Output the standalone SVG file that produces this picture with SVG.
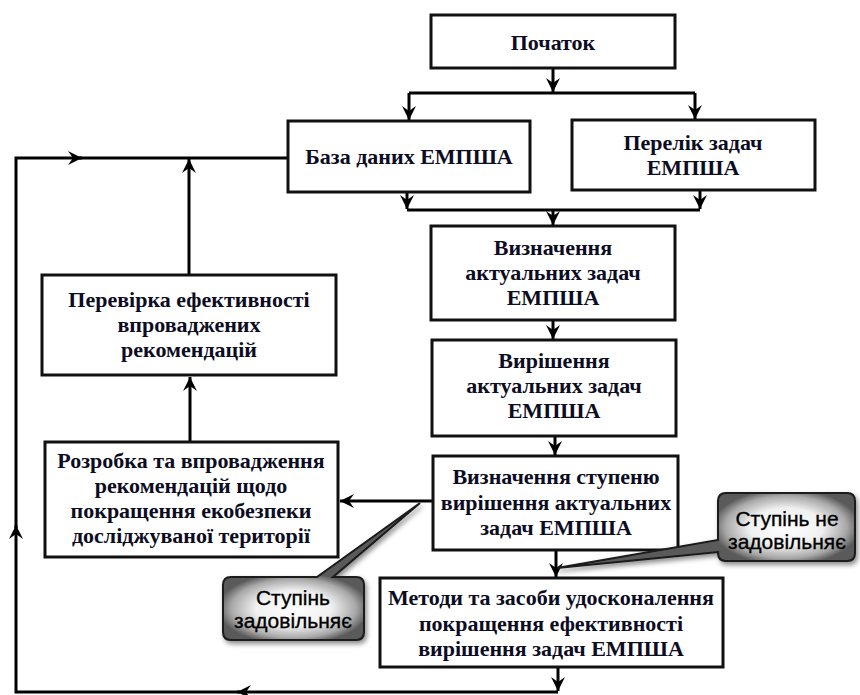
<svg xmlns="http://www.w3.org/2000/svg" width="860" height="695" viewBox="0 0 860 695">
<defs>
<style>
.box{fill:#fff;stroke:#111;stroke-width:3}
.t{font-family:"Liberation Serif","Times New Roman",serif;font-weight:bold;font-size:22px;fill:#0c0c22;text-anchor:middle}
.ct{font-family:"Liberation Sans",Arial,sans-serif;font-size:21px;fill:#000;stroke:#000;stroke-width:0.35;text-anchor:middle}
.ln{fill:none;stroke:#000;stroke-width:3}
.call{stroke:#1a1a1a;stroke-width:2;filter:url(#sh)}
</style>
<marker id="ah" markerUnits="userSpaceOnUse" markerWidth="16" markerHeight="16" refX="14" refY="7" orient="auto" viewBox="0 0 16 14">
<path d="M0,0 L14,7 L0,14 L5,7 z" fill="#000"/>
</marker>
<radialGradient id="cg1" gradientUnits="userSpaceOnUse" cx="0" cy="0" r="1" gradientTransform="translate(786,527) scale(74,38)">
<stop offset="0" stop-color="#ffffff"/>
<stop offset="0.5" stop-color="#f0f0f0"/>
<stop offset="0.82" stop-color="#a8a8a8"/>
<stop offset="1" stop-color="#5a5a5a"/>
</radialGradient>
<radialGradient id="cg2" gradientUnits="userSpaceOnUse" cx="0" cy="0" r="1" gradientTransform="translate(293.5,608.5) scale(76,36)">
<stop offset="0" stop-color="#ffffff"/>
<stop offset="0.5" stop-color="#f0f0f0"/>
<stop offset="0.82" stop-color="#a8a8a8"/>
<stop offset="1" stop-color="#5a5a5a"/>
</radialGradient>
<filter id="sh" x="-20%" y="-20%" width="150%" height="150%">
<feDropShadow dx="2" dy="3" stdDeviation="2.5" flood-color="#000" flood-opacity="0.45"/>
</filter>
</defs>

<g id="connectors">
<path class="ln" d="M553,68 V92" marker-end="url(#ah)"/>
<path class="ln" d="M409,93 H695"/>
<path class="ln" d="M409,93 V120" marker-end="url(#ah)"/>
<path class="ln" d="M695,93 V119" marker-end="url(#ah)"/>
<path class="ln" d="M407,192 V209" marker-end="url(#ah)"/>
<path class="ln" d="M700,190 V209" marker-end="url(#ah)"/>
<path class="ln" d="M407,210 H700"/>
<path class="ln" d="M553,210 V225" marker-end="url(#ah)"/>
<path class="ln" d="M553,320 V339" marker-end="url(#ah)"/>
<path class="ln" d="M555,436 V455" marker-end="url(#ah)"/>
<path class="ln" d="M556,550 V577" marker-end="url(#ah)"/>
<path class="ln" d="M558,667 V691" marker-end="url(#ah)"/>
<path class="ln" d="M433,501 H340" marker-end="url(#ah)"/>
<path class="ln" d="M190,442 V377" marker-end="url(#ah)"/>
<path class="ln" d="M189,275 V159" marker-end="url(#ah)"/>
<path class="ln" d="M558,692 H237" marker-end="url(#ah)"/>
<path class="ln" d="M240,692 H16 V525" marker-end="url(#ah)"/>
<path class="ln" d="M16,528 V158 H82" marker-end="url(#ah)"/>
<path class="ln" d="M79,158 H288"/>
</g>

<g id="n1">
<rect class="box" x="431" y="15" width="244" height="53"/>
<text class="t" x="553" y="50">Початок</text>
</g>
<g id="n2">
<rect class="box" x="288" y="121" width="242" height="71"/>
<text class="t" x="409" y="164">База даних ЕМПША</text>
</g>
<g id="n3">
<rect class="box" x="572" y="120" width="243" height="70"/>
<text class="t" x="693" y="150">Перелік задач</text>
<text class="t" x="693" y="175">ЕМПША</text>
</g>
<g id="n4">
<rect class="box" x="431" y="226" width="244" height="94"/>
<text class="t" x="553" y="255">Визначення</text>
<text class="t" x="553" y="280">актуальних задач</text>
<text class="t" x="553" y="305">ЕМПША</text>
</g>
<g id="n5">
<rect class="box" x="432" y="340" width="244" height="96"/>
<text class="t" x="554" y="368">Вирішення</text>
<text class="t" x="554" y="393">актуальних задач</text>
<text class="t" x="554" y="418">ЕМПША</text>
</g>
<g id="n6">
<rect class="box" x="433" y="456" width="245" height="94"/>
<text class="t" x="556" y="484">Визначення ступеню</text>
<text class="t" x="556" y="510">вирішення актуальних</text>
<text class="t" x="556" y="535">задач ЕМПША</text>
</g>
<g id="n7">
<rect class="box" x="380" y="578" width="343" height="89"/>
<text class="t" x="551" y="605">Методи та засоби удосконалення</text>
<text class="t" x="551" y="631">покращення ефективності</text>
<text class="t" x="551" y="656">вирішення задач ЕМПША</text>
</g>
<g id="n8">
<rect class="box" x="42" y="275" width="294" height="100"/>
<text class="t" x="189" y="307">Перевірка ефективності</text>
<text class="t" x="189" y="332">впроваджених</text>
<text class="t" x="189" y="357">рекомендацій</text>
</g>
<g id="n9">
<rect class="box" x="45" y="442" width="293" height="115"/>
<text class="t" x="191" y="468">Розробка та впровадження</text>
<text class="t" x="191" y="493">рекомендацій щодо</text>
<text class="t" x="191" y="518">покращення екобезпеки</text>
<text class="t" x="191" y="543">досліджуваної території</text>
</g>

<g id="c1">
<path class="call" fill="url(#cg1)" d="M726,493 H847 Q855,493 855,501 V553 Q855,561 847,561 H726 Q718,561 718,553 V552 L557,568 L718,540 V501 Q718,493 726,493 Z"/>
<text class="ct" x="787" y="526">Ступінь не</text>
<text class="ct" x="787" y="549">задовільняє</text>
</g>
<g id="c2">
<path class="call" fill="url(#cg2)" d="M231,577 H317 L420,503 L333,577 H356 Q364,577 364,585 V632 Q364,640 356,640 H231 Q223,640 223,632 V585 Q223,577 231,577 Z"/>
<text class="ct" x="293" y="605">Ступінь</text>
<text class="ct" x="293" y="628">задовільняє</text>
</g>
</svg>
